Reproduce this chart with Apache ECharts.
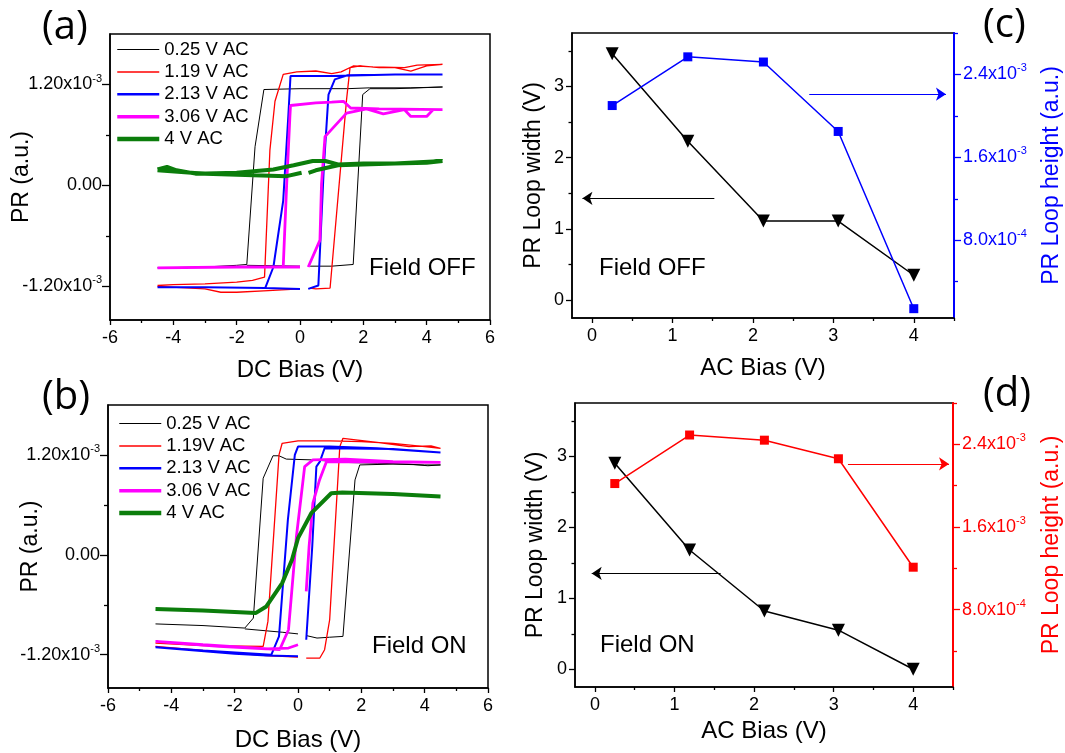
<!DOCTYPE html>
<html><head><meta charset="utf-8">
<script src="https://cdn.jsdelivr.net/npm/echarts@6/dist/echarts.min.js"></script>
<style>html,body{margin:0;padding:0;background:#fff}#c{width:1065px;height:753px}</style>
</head><body><div id="c"></div>
<script>
// ---------- DATA (PR values in units of 1e-3) ----------
const NAMES_A = ['0.25 V AC','1.19 V AC','2.13 V AC','3.06 V AC','4 V AC'];
const NAMES_B = ['0.25 V AC','1.19V AC','2.13 V AC','3.06 V AC','4 V AC'];
const G = [0.15,'-'];
const A_025 = [[-4.5,-0.98],[-3.0,-0.97],[-2.0,-0.95],[-1.68,-0.94],[-1.42,0.46],[-1.14,1.14],[0,1.15],[1.5,1.15],[2.2,1.16],[3.5,1.16],[4.5,1.17],
  [3.0,1.15],[2.21,1.15],[1.98,1.08],[1.68,-0.94],[1.0,-0.96],[0.32,-0.96],G,[0,-0.96],[-1.68,-0.95]];
const A_119 = [[-4.5,-1.19],[-4.0,-1.18],[-3.0,-1.17],[-2.0,-1.15],[-1.5,-1.13],[-1.12,-1.09],[-0.95,0.42],[-0.79,1.0],[-0.53,1.32],[-0.1,1.35],[0.5,1.36],[1.0,1.33],[1.3,1.35],[1.68,1.42],[2.3,1.41],[3.3,1.40],[3.7,1.43],[4.5,1.44],
  [4.0,1.42],[3.5,1.36],[3.0,1.40],[2.5,1.40],[1.9,1.42],[1.58,1.40],[1.47,1.02],[0.95,-1.22],[0.5,-1.23],[0.32,-1.22],G,[0,-1.23],[-1.0,-1.25],[-2.0,-1.27],[-2.5,-1.27],[-3.0,-1.23],[-4.5,-1.20]];
const A_213 = [[-4.5,-1.21],[-3,-1.21],[-1.1,-1.22],[-0.84,-0.97],[-0.53,-0.18],[-0.37,0.82],[-0.3,1.30],[1.0,1.30],[2.0,1.31],[3.0,1.32],[4.5,1.32],
  [3,1.32],[1.5,1.31],[1.1,1.26],[0.9,1.08],[0.75,0.2],[0.58,-1.19],[0.26,-1.23],G,[0,-1.23],[-1.1,-1.22]];
const A_306 = [[-4.5,-0.98],[-2,-0.97],[-0.53,-0.97],[-0.42,0.02],[-0.32,0.81],[-0.3,0.95],[0.5,0.98],[1.0,0.99],[1.37,1.0],[1.6,0.92],[2.5,0.91],[4.5,0.90],
  [4.2,0.90],[4.0,0.82],[3.5,0.82],[3.3,0.90],[2.63,0.85],[2.1,0.91],[1.47,0.86],[0.79,0.58],[0.68,0.02],[0.63,-0.65],[0.26,-0.97],G,[0,-0.97],[-0.53,-0.97]];
const A_4 = [[-4.5,0.19],[-4.2,0.22],[-3.9,0.18],[-3.3,0.14],[-2,0.15],[-0.84,0.19],[-0.2,0.24],[0.4,0.29],[0.8,0.29],[1.2,0.25],[2.0,0.26],[3.0,0.26],[4.0,0.27],[4.5,0.29],
  [3,0.26],[1.2,0.24],[0.5,0.18],[0.27,0.15],G,[0.05,0.15],[-0.42,0.11],[-1.47,0.12],[-3.0,0.14],[-4.5,0.18]];

const B_025 = [[-4.5,-0.83],[-3,-0.85],[-1.68,-0.88],[-1.41,-0.76],[-1.1,0.92],[-0.79,1.19],[-0.6,1.19],[-0.37,1.15],[0.5,1.14],[1.5,1.11],[2.5,1.10],[3.5,1.09],[4.1,1.07],[4.5,1.08],
  [4.0,1.08],[3,1.09],[1.95,1.08],[1.8,0.9],[1.42,-0.98],[1.0,-0.99],[0.6,-1.0],[0.26,-0.97],G,[0,-0.95],[-0.5,-0.93],[-1.68,-0.89]];
const B_119 = [[-4.5,-1.06],[-3,-1.09],[-1.1,-1.10],[-0.95,-0.8],[-0.6,1.2],[-0.5,1.34],[0,1.37],[1,1.37],[2,1.36],[3,1.34],[4,1.30],[4.5,1.28],
  [4.2,1.31],[3.5,1.30],[2.5,1.35],[1.42,1.40],[1.32,1.3],[1.0,-0.78],[0.84,-1.14],[0.69,-1.24],[0.26,-1.24],G,[0,-1.23],[-1,-1.21],[-2,-1.18],[-4.5,-1.10]];
const B_213 = [[-4.5,-1.11],[-3,-1.15],[-0.84,-1.20],[-0.6,-0.98],[-0.32,0.42],[-0.1,1.2],[0,1.30],[1,1.30],[2.5,1.28],[4.5,1.23],
  [3,1.27],[0.84,1.28],[0.69,1.12],[0.58,1.06],[0.45,0.1],[0.26,-1.02],G,[0,-1.22],[-1,-1.21],[-2,-1.19],[-4.5,-1.11]];
const B_306 = [[-4.5,-1.04],[-3,-1.08],[-0.58,-1.14],[-0.3,-0.9],[-0.05,0.22],[0.21,1.06],[0.47,1.14],[1.5,1.15],[3,1.12],[4.5,1.11],
  [0.9,1.12],[0.68,0.9],[0.47,0.62],[0.35,0.1],[0.26,-0.44],G,[0,-1.08],[-0.3,-1.12],[-1,-1.13],[-2.5,-1.1],[-4.5,-1.04]];
const B_4 = [[-4.5,-0.65],[-3,-0.67],[-1.34,-0.70],[-1.0,-0.62],[-0.5,-0.34],[-0.19,-0.06],[0,0.2],[0.42,0.5],[1.05,0.74],[1.4,0.75],[3,0.73],[4.5,0.70]];

const AC_BIAS = [0.25,1.19,2.13,3.06,4];
const WIDTH_OFF = [3.46,2.23,1.11,1.11,0.35];
const HEIGHT_OFF = [2.10,2.57,2.52,1.85,0.14];
const WIDTH_ON = [2.90,1.68,0.82,0.55,0.0];
const HEIGHT_ON = [2.02,2.49,2.44,2.26,1.21];

const ARROW_C_LEFT = [[1.52,1.43],[-0.12,1.43]];
const ARROW_C_RIGHT = [[2.7,2.21],[4.4,2.21]];
const ARROW_D_LEFT = [[1.58,1.35],[-0.04,1.35]];
const ARROW_D_RIGHT = [[3.18,2.21],[4.45,2.21]];

// tick labels
const DC_TICKS = [-6,-4,-2,0,2,4,6];
const DC_MINOR = [-5,-3,-1,1,3,5];
const PR_TICKS = [-1.2,0,1.2];
const PR_TICK_TEXT = [['-1.20x10','-3'],['0.00',''],['1.20x10','-3']];
const PR_MINOR = [-0.6,0.6];
const AC_TICKS = [0,1,2,3,4];
const AC_MINOR = [0.5,1.5,2.5,3.5,4.5];
const W_TICKS = [0,1,2,3];
const W_MINOR = [0.5,1.5,2.5,3.5];
const H_TICKS = [0.8,1.6,2.4];
const H_TICK_TEXT = [['8.0x10','-4'],['1.6x10','-3'],['2.4x10','-3']];
const H_MINOR = [0.4,1.2,2.0,2.8];

// ---------- STYLE ----------
const FONT = 'Liberation Sans, Arial, sans-serif';
const COLORS = ['#000000','#ff0000','#0000ff','#ff00ff','#0b7d0b'];
const WIDTHS = [1,1.3,2,2.8,4];
const LEGEND_WIDTHS = [1,1.5,2.5,3.5,4.5];

function supFormatter(ticks, texts){
  return function(v){
    let best=0; for(let i=0;i<ticks.length;i++){ if(Math.abs(ticks[i]-v)<Math.abs(ticks[best]-v)) best=i; }
    const t = texts[best];
    return t[1] ? '{b|'+t[0]+'}{s|'+t[1]+'}' : '{b|'+t[0]+'}';
  };
}
function rich(color){
  return {b:{fontSize:18,color:color,fontFamily:FONT},s:{fontSize:11,color:color,fontFamily:FONT,padding:[0,0,12,0]}};
}
function mainAxis(o){
  const color = o.color||'#000';
  return {
    type:'value', gridIndex:o.grid, min:o.min, max:o.max, position:o.position,
    name:o.name, nameLocation:'middle', nameGap:o.nameGap, nameMoveOverlap:false,
    nameTextStyle:{fontSize:o.nameSize||23,color:color,fontFamily:FONT},
    axisLine:{show:true,onZero:false,lineStyle:{color:color,width:o.lineWidth||1.5}},
    axisTick:{show:true,inside:false,length:o.tickLen||6,lineStyle:{color:color,width:1.3},customValues:o.ticks},
    axisLabel:{show:true,margin:o.margin||8,fontSize:18,color:color,fontFamily:FONT,customValues:o.ticks,
      formatter:o.formatter, rich:o.rich},
    splitLine:{show:false}, minorTick:{show:false}, minorSplitLine:{show:false}
  };
}
function minorAxis(o){
  const color=o.color||'#000';
  return {
    type:'value', gridIndex:o.grid, min:o.min, max:o.max, position:o.position, offset:0,
    axisLine:{show:false,onZero:false}, axisLabel:{show:false,customValues:o.ticks},
    axisTick:{show:true,inside:false,length:o.tickLen||3.5,lineStyle:{color:color,width:1.3},customValues:o.ticks},
    splitLine:{show:false}
  };
}

const grids = [
  {left:110,top:34,width:380,height:286},
  {left:108,top:405,width:380,height:283},
  {left:572,top:33,width:382,height:285},
  {left:575,top:403,width:378,height:284}
].map(g=>Object.assign(g,{show:true,borderColor:'#000',borderWidth:1.5,backgroundColor:'transparent',containLabel:false,outerBoundsMode:'none'}));

const xAxis = [
  mainAxis({grid:0,min:-6,max:6,ticks:DC_TICKS,position:'bottom',name:'DC Bias (V)',nameGap:38,nameSize:24,margin:9,tickLen:5}),
  minorAxis({grid:0,min:-6,max:6,ticks:DC_MINOR,position:'bottom',tickLen:3}),
  mainAxis({grid:1,min:-6,max:6,ticks:DC_TICKS,position:'bottom',name:'DC Bias (V)',nameGap:40,nameSize:24,margin:9,tickLen:5}),
  minorAxis({grid:1,min:-6,max:6,ticks:DC_MINOR,position:'bottom',tickLen:3}),
  mainAxis({grid:2,min:-0.25,max:4.5,ticks:AC_TICKS,position:'bottom',name:'AC Bias (V)',nameGap:38,nameSize:24,margin:9,tickLen:5}),
  minorAxis({grid:2,min:-0.25,max:4.5,ticks:AC_MINOR,position:'bottom',tickLen:3}),
  mainAxis({grid:3,min:-0.25,max:4.5,ticks:AC_TICKS,position:'bottom',name:'AC Bias (V)',nameGap:32,nameSize:24,margin:9,tickLen:5}),
  minorAxis({grid:3,min:-0.25,max:4.5,ticks:AC_MINOR,position:'bottom',tickLen:3})
];
const yAxis = [
  mainAxis({grid:0,min:-1.6,max:1.8,ticks:PR_TICKS,position:'left',name:'PR (a.u.)',nameGap:77,tickLen:8,formatter:supFormatter(PR_TICKS,PR_TICK_TEXT),rich:rich('#000')}),
  minorAxis({grid:0,min:-1.6,max:1.8,ticks:PR_MINOR,position:'left',tickLen:4}),
  mainAxis({grid:1,min:-1.6,max:1.8,ticks:PR_TICKS,position:'left',name:'PR (a.u.)',nameGap:66,tickLen:8,formatter:supFormatter(PR_TICKS,PR_TICK_TEXT),rich:rich('#000')}),
  minorAxis({grid:1,min:-1.6,max:1.8,ticks:PR_MINOR,position:'left',tickLen:4}),
  mainAxis({grid:2,min:-0.25,max:3.75,ticks:W_TICKS,position:'left',name:'PR Loop width (V)',nameGap:27,tickLen:6}),
  minorAxis({grid:2,min:-0.25,max:3.75,ticks:W_MINOR,position:'left',tickLen:3.5}),
  mainAxis({grid:2,min:0.05,max:2.8,ticks:H_TICKS,position:'right',color:'#0000ff',lineWidth:2,name:'PR Loop height (a.u.)',nameGap:86,tickLen:7,formatter:supFormatter(H_TICKS,H_TICK_TEXT),rich:rich('#0000ff'),margin:9}),
  minorAxis({grid:2,min:0.05,max:2.8,ticks:H_MINOR,position:'right',color:'#0000ff',tickLen:4}),
  mainAxis({grid:3,min:-0.25,max:3.75,ticks:W_TICKS,position:'left',name:'PR Loop width (V)',nameGap:28,tickLen:6}),
  minorAxis({grid:3,min:-0.25,max:3.75,ticks:W_MINOR,position:'left',tickLen:3.5}),
  mainAxis({grid:3,min:0.05,max:2.8,ticks:H_TICKS,position:'right',color:'#ff0000',lineWidth:2,name:'PR Loop height (a.u.)',nameGap:87,tickLen:7,formatter:supFormatter(H_TICKS,H_TICK_TEXT),rich:rich('#ff0000'),margin:9}),
  minorAxis({grid:3,min:0.05,max:2.8,ticks:H_MINOR,position:'right',color:'#ff0000',tickLen:4})
];

const series = [];
[A_025,A_119,A_213,A_306,A_4].forEach((d,i)=>series.push({
  type:'line',name:NAMES_A[i],xAxisIndex:0,yAxisIndex:0,data:d,showSymbol:false,symbol:'none',
  lineStyle:{color:COLORS[i],width:WIDTHS[i]},itemStyle:{color:COLORS[i]},z:2+i,connectNulls:false}));
[B_025,B_119,B_213,B_306,B_4].forEach((d,i)=>series.push({
  type:'line',name:NAMES_B[i],xAxisIndex:2,yAxisIndex:2,data:d,showSymbol:false,symbol:'none',
  lineStyle:{color:COLORS[i],width:WIDTHS[i]},itemStyle:{color:COLORS[i]},z:2+i,connectNulls:false}));

function arrowLine(seg,color){
  return {silent:true,symbol:['none','arrow'],symbolSize:10,label:{show:false},
    itemStyle:{color:color},lineStyle:{color:color,width:1.2,type:'solid'},data:[[{coord:seg[0]},{coord:seg[1]}]]};
}
function pairs(xs,ys){ return xs.map((x,i)=>[x,ys[i]]); }
series.push({type:'line',name:'width off',xAxisIndex:4,yAxisIndex:4,data:pairs(AC_BIAS,WIDTH_OFF),
  symbol:'triangle',symbolRotate:180,symbolSize:13,lineStyle:{color:'#000',width:1.5},itemStyle:{color:'#000'},
  markLine:arrowLine(ARROW_C_LEFT,'#000')});
series.push({type:'line',name:'height off',xAxisIndex:4,yAxisIndex:6,data:pairs(AC_BIAS,HEIGHT_OFF),
  symbol:'rect',symbolSize:9,lineStyle:{color:'#0000ff',width:1.5},itemStyle:{color:'#0000ff'},
  markLine:arrowLine(ARROW_C_RIGHT,'#0000ff')});
series.push({type:'line',name:'width on',xAxisIndex:6,yAxisIndex:8,data:pairs(AC_BIAS,WIDTH_ON),
  symbol:'triangle',symbolRotate:180,symbolSize:13,lineStyle:{color:'#000',width:1.5},itemStyle:{color:'#000'},
  markLine:arrowLine(ARROW_D_LEFT,'#000')});
series.push({type:'line',name:'height on',xAxisIndex:6,yAxisIndex:10,data:pairs(AC_BIAS,HEIGHT_ON),
  symbol:'rect',symbolSize:9,lineStyle:{color:'#ff0000',width:1.5},itemStyle:{color:'#ff0000'},
  markLine:arrowLine(ARROW_D_RIGHT,'#ff0000')});

function legend(names,left,top){
  return {data:names.map((n,i)=>({name:n,lineStyle:{width:LEGEND_WIDTHS[i],color:COLORS[i]}})),
    orient:'vertical',left:left,top:top,itemWidth:42,itemHeight:14,itemGap:3.4,
    selectedMode:false,padding:0,
    itemStyle:{color:'rgba(0,0,0,0)',borderColor:'rgba(0,0,0,0)',borderWidth:0,opacity:0},
    textStyle:{fontSize:18.5,color:'#000',fontFamily:FONT}};
}
function txt(t,x,y,size,family){
  return {type:'text',x:x,y:y,style:{text:t,fontSize:size,fontFamily:family||FONT,fill:'#000',textVerticalAlign:'middle',verticalAlign:'middle'}};
}

const chart = echarts.init(document.getElementById('c'),null,{renderer:'canvas'});
chart.setOption({
  animation:false, backgroundColor:'#fff',
  grid:grids, xAxis:xAxis, yAxis:yAxis, series:series,
  legend:[legend(NAMES_A,115,40),legend(NAMES_B,117,414)],
  graphic:[
    txt('(a)',42,28,40,'Open Sans'), txt('(b)',42,398,40,'Open Sans'),
    txt('(c)',983,26,40,'Open Sans'), txt('(d)',983,395,40,'Open Sans'),
    txt('Field OFF',369,268,24), txt('Field ON',372,646,24),
    txt('Field OFF',599,268,24), txt('Field ON',600,645,24)
  ]
});
</script></body></html>
